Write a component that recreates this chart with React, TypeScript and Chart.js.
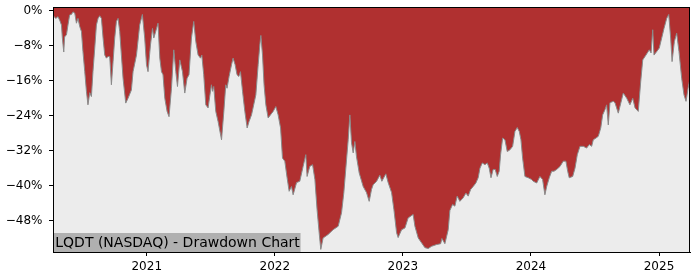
import React, { useEffect, useRef } from "react";
import { Chart, registerables } from "chart.js";

Chart.register(...registerables);

// Drawdown series: dates as fractional years, drawdown in percent
const ddYears: number[] = [
  2020.268, 2020.289, 2020.307, 2020.32, 2020.334, 2020.341, 2020.352, 2020.359, 2020.373, 2020.385,
  2020.398, 2020.412, 2020.424, 2020.438, 2020.451, 2020.463, 2020.477, 2020.49, 2020.502, 2020.516,
  2020.529, 2020.541, 2020.555, 2020.568, 2020.58, 2020.594, 2020.607, 2020.62, 2020.633, 2020.646,
  2020.659, 2020.672, 2020.685, 2020.698, 2020.711, 2020.724, 2020.737, 2020.75, 2020.763, 2020.776,
  2020.789, 2020.802, 2020.815, 2020.836, 2020.854, 2020.88, 2020.893, 2020.92, 2020.945, 2020.966,
  2020.984, 2020.998, 2021.01, 2021.029, 2021.045, 2021.055, 2021.07, 2021.088, 2021.102, 2021.115,
  2021.127, 2021.141, 2021.159, 2021.174, 2021.193, 2021.211, 2021.227, 2021.24, 2021.258, 2021.279,
  2021.297, 2021.315, 2021.33, 2021.349, 2021.367, 2021.383, 2021.401, 2021.42, 2021.43, 2021.445,
  2021.461, 2021.479, 2021.505, 2021.513, 2021.523, 2021.539, 2021.557, 2021.584, 2021.602, 2021.617,
  2021.627, 2021.643, 2021.662, 2021.674, 2021.69, 2021.705, 2021.719, 2021.732, 2021.748, 2021.766,
  2021.784, 2021.799, 2021.818, 2021.83, 2021.852, 2021.87, 2021.883, 2021.891, 2021.904, 2021.916,
  2021.93, 2021.948, 2021.966, 2021.987, 2022.008, 2022.026, 2022.045, 2022.06, 2022.078, 2022.096,
  2022.112, 2022.13, 2022.143, 2022.17, 2022.195, 2022.221, 2022.242, 2022.252, 2022.273, 2022.295,
  2022.313, 2022.33, 2022.346, 2022.359, 2022.377, 2022.416, 2022.455, 2022.495, 2022.521, 2022.539,
  2022.56, 2022.573, 2022.586, 2022.599, 2022.612, 2022.625, 2022.638, 2022.659, 2022.69, 2022.716,
  2022.737, 2022.755, 2022.768, 2022.795, 2022.82, 2022.836, 2022.867, 2022.885, 2022.912, 2022.93,
  2022.951, 2022.963, 2022.99, 2023.016, 2023.041, 2023.08, 2023.094, 2023.12, 2023.146, 2023.172,
  2023.198, 2023.224, 2023.263, 2023.295, 2023.305, 2023.328, 2023.354, 2023.367, 2023.388, 2023.406,
  2023.424, 2023.445, 2023.471, 2023.492, 2023.51, 2023.529, 2023.549, 2023.57, 2023.588, 2023.602,
  2023.62, 2023.641, 2023.659, 2023.674, 2023.688, 2023.705, 2023.721, 2023.737, 2023.752, 2023.763,
  2023.779, 2023.797, 2023.815, 2023.836, 2023.857, 2023.875, 2023.893, 2023.909, 2023.922, 2023.935,
  2023.953, 2023.979, 2024.005, 2024.018, 2024.045, 2024.07, 2024.091, 2024.109, 2024.123, 2024.143,
  2024.162, 2024.18, 2024.201, 2024.227, 2024.252, 2024.273, 2024.287, 2024.299, 2024.326, 2024.344,
  2024.362, 2024.383, 2024.409, 2024.435, 2024.455, 2024.474, 2024.487, 2024.508, 2024.526, 2024.545,
  2024.56, 2024.578, 2024.591, 2024.604, 2024.617, 2024.643, 2024.656, 2024.682, 2024.721, 2024.748,
  2024.773, 2024.795, 2024.813, 2024.838, 2024.857, 2024.873, 2024.898, 2024.924, 2024.938, 2024.951,
  2024.961, 2024.982, 2025.002, 2025.021, 2025.039, 2025.06, 2025.076, 2025.091, 2025.102, 2025.12,
  2025.138, 2025.156, 2025.177, 2025.195, 2025.211, 2025.227, 2025.24,
];

const ddPct: number[] = [
  -1.0, -1.7, -1.3, -2.1, -3.2, -6.2, -9.4, -5.9, -5.5, -3.2,
  -0.9, -0.8, -0.2, -0.5, -2.8, -1.7, -3.6, -4.7, -9.3, -13.9,
  -18.4, -21.5, -18.7, -19.6, -13.9, -8.5, -3.2, -1.7, -1.1, -1.7,
  -6.2, -10.1, -10.8, -10.4, -10.5, -16.9, -11.6, -6.2, -2.4, -1.7,
  -4.7, -10.1, -15.4, -21.1, -20.0, -18.1, -13.9, -10.1, -3.2, -0.8,
  -6.2, -12.3, -13.9, -7.8, -4.0, -6.2, -4.7, -2.8, -10.8, -13.9,
  -14.6, -20.0, -23.0, -24.2, -17.7, -8.9, -13.9, -17.3, -11.2, -13.9,
  -18.8, -15.4, -14.6, -6.2, -2.4, -7.0, -10.1, -10.8, -10.1, -14.6,
  -21.5, -22.2, -16.9, -18.4, -17.3, -23.0, -25.3, -29.5, -23.0, -16.9,
  -17.7, -15.0, -12.3, -10.8, -12.3, -14.6, -15.0, -13.9, -18.4, -23.0,
  -26.8, -25.3, -23.8, -22.2, -19.2, -12.3, -7.8, -5.6, -10.1, -16.9,
  -21.5, -24.5, -23.8, -23.0, -21.9, -23.8, -26.8, -33.7, -34.4, -38.2,
  -41.3, -40.2, -42.1, -39.3, -39.0, -35.6, -32.9, -37.9, -35.6, -35.2,
  -38.6, -45.5, -50.7, -54.6, -52.0, -51.2, -50.1, -49.3, -46.2, -41.6,
  -34.1, -29.5, -23.8, -30.2, -32.5, -29.9, -33.4, -37.1, -40.2, -41.6,
  -43.6, -40.9, -39.8, -39.0, -37.6, -39.0, -37.3, -39.3, -41.6, -45.5,
  -50.8, -51.9, -50.1, -49.7, -47.4, -46.6, -49.3, -52.0, -53.1, -54.2,
  -54.4, -53.9, -53.5, -53.3, -52.1, -53.3, -50.1, -45.7, -44.3, -44.7,
  -42.4, -43.6, -42.8, -41.7, -42.4, -40.9, -40.2, -39.4, -38.2, -36.0,
  -34.8, -35.2, -34.8, -36.0, -38.2, -36.3, -36.3, -37.9, -36.7, -32.9,
  -29.1, -29.5, -32.2, -31.8, -31.0, -27.6, -26.7, -27.6, -29.5, -33.7,
  -37.9, -38.2, -38.6, -39.0, -39.4, -37.9, -38.6, -42.1, -40.2, -38.2,
  -36.7, -36.7, -36.3, -35.6, -34.4, -34.4, -36.7, -38.2, -37.9, -36.0,
  -32.9, -31.0, -31.0, -31.4, -30.6, -31.0, -29.5, -29.1, -28.7, -26.8,
  -23.8, -22.6, -21.5, -26.1, -21.0, -20.7, -21.0, -23.4, -18.8, -20.0,
  -21.5, -20.0, -22.2, -23.0, -16.2, -11.2, -10.1, -8.9, -9.6, -4.3,
  -10.1, -9.3, -8.5, -6.2, -4.0, -1.7, -0.8, -6.2, -11.6, -7.0,
  -5.1, -9.3, -15.4, -19.2, -20.7, -17.7, -15.8,
];

const xTickYears: number[] = [2021, 2022, 2023, 2024, 2025];
const yTickPct: number[] = [0, -8, -16, -24, -32, -40, -48];
const chartLabel = "LQDT (NASDAQ) - Drawdown Chart";

const FONT = '"DejaVu Sans", sans-serif';

export default function App() {
  const ref = useRef<HTMLCanvasElement | null>(null);

  useEffect(() => {
    document.body.style.margin = "0";
    const canvas = ref.current;
    if (!canvas) return;

    const framePlugin = {
      id: "framePlugin",
      beforeDatasetsDraw(chart: any) {
        const { ctx, chartArea: a } = chart;
        ctx.save();
        ctx.fillStyle = "#ececec";
        ctx.fillRect(a.left, a.top, a.right - a.left, a.bottom - a.top);
        ctx.restore();
      },
      afterDraw(chart: any) {
        const { ctx, chartArea: a } = chart;
        ctx.save();
        ctx.font = `14px ${FONT}`;
        const tw = ctx.measureText(chartLabel).width;
        ctx.fillStyle = "#b0b0b0";
        ctx.fillRect(a.left, a.bottom - 19, tw + 3, 19);
        ctx.fillStyle = "#000";
        ctx.textBaseline = "alphabetic";
        ctx.textAlign = "left";
        ctx.fillText(chartLabel, a.left + 2.3, a.bottom - 4.7);
        ctx.strokeStyle = "#000";
        ctx.lineWidth = 1;
        ctx.strokeRect(a.left + 0.5, a.top + 0.5, a.right - a.left - 1, a.bottom - a.top);
        ctx.restore();
      },
    };

    const chart = new Chart(canvas, {
      type: "line",
      data: {
        datasets: [
          {
            data: ddYears.map((x, i) => ({ x, y: ddPct[i] })),
            borderColor: "#8a8a8a",
            borderWidth: 1,
            backgroundColor: "#b03030",
            fill: "end",
            pointRadius: 0,
            tension: 0,
          },
        ],
      },
      options: {
        responsive: false,
        animation: false,
        devicePixelRatio: 1,
        layout: { padding: { left: 0, top: 0, right: 10, bottom: 0 } },
        plugins: { legend: { display: false }, tooltip: { enabled: false } },
        scales: {
          x: {
            type: "linear",
            min: 2020.268,
            max: 2025.242,
            afterBuildTicks: (s: any) => {
              s.ticks = xTickYears.map((v) => ({ value: v }));
            },
            afterFit: (s: any) => {
              s.height = 28;
            },
            ticks: {
              callback: (v: any) => String(v),
              font: { family: FONT, size: 12 },
              color: "#000",
              padding: 4,
              maxRotation: 0,
              autoSkip: false,
            },
            grid: { drawOnChartArea: false, drawTicks: true, tickLength: 4, color: "#000" },
            border: { display: true, color: "#000", width: 1 },
          },
          y: {
            type: "linear",
            min: -55.2,
            max: 0.91,
            afterBuildTicks: (s: any) => {
              s.ticks = yTickPct.map((v) => ({ value: v }));
            },
            afterFit: (s: any) => {
              s.width = 53;
              s.paddingTop = 7;
            },
            ticks: {
              callback: (v: any) => (v < 0 ? "\u2212" + Math.abs(v) : String(v)) + "%",
              font: { family: FONT, size: 12 },
              color: "#000",
              padding: 6.5,
              autoSkip: false,
            },
            grid: { drawOnChartArea: false, drawTicks: true, tickLength: 4, color: "#000" },
            border: { display: true, color: "#000", width: 1 },
          },
        },
      },
      plugins: [framePlugin],
    } as any);

    return () => chart.destroy();
  }, []);

  return (
    <div style={{ width: 700, height: 280 }}>
      <canvas ref={ref} width={700} height={280} />
    </div>
  );
}
